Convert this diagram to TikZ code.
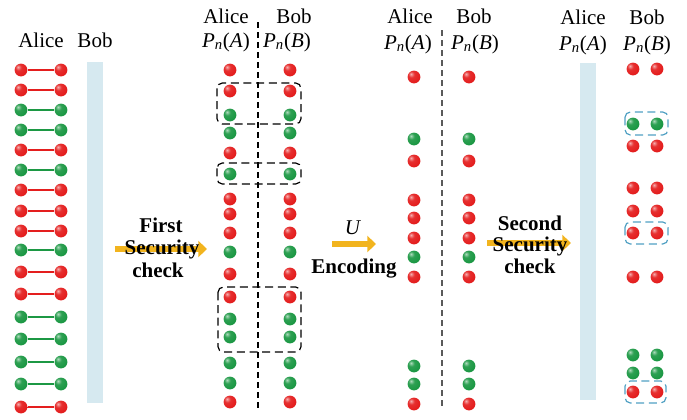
\documentclass[tikz,border=0pt]{standalone}
\usepackage{fontspec}
\setmainfont{Liberation Serif}
\usepackage{tikz}
\usetikzlibrary{arrows.meta}

\definecolor{ballred}{RGB}{228,30,30}
\definecolor{ballgreen}{RGB}{28,152,68}
\definecolor{barblue}{RGB}{214,233,240}
\definecolor{arrowyellow}{RGB}{242,180,30}
\definecolor{boxblue}{RGB}{80,160,195}
\definecolor{dashgray}{RGB}{90,90,90}

\pgfdeclareradialshading{redball}{\pgfpoint{-12bp}{12bp}}{color(0bp)=(ballred!35!white); color(12bp)=(ballred!92!white); color(30bp)=(ballred); color(50bp)=(ballred!88!black); color(67bp)=(ballred!55!black); color(100bp)=(ballred!55!black)}
\pgfdeclareradialshading{greenball}{\pgfpoint{-12bp}{12bp}}{color(0bp)=(ballgreen!35!white); color(12bp)=(ballgreen!92!white); color(30bp)=(ballgreen); color(50bp)=(ballgreen!88!black); color(67bp)=(ballgreen!55!black); color(100bp)=(ballgreen!55!black)}

\begin{document}
\begin{tikzpicture}[x=0.75pt,y=0.75pt,yscale=-1,xscale=1,
  redq/.style={circle,inner sep=0pt,minimum size=9.6pt,shading=redball},
  greenq/.style={circle,inner sep=0pt,minimum size=9.6pt,shading=greenball},
  lbl/.style={anchor=base,font=\fontsize{15.75}{18}\selectfont},
  boldlbl/.style={anchor=base,font=\fontsize{15.75}{18}\selectfont\bfseries},
  pairline/.style={line width=0.9pt},
  sepline/.style={dash pattern=on 4.5pt off 3pt,line width=0.9pt},
  blackbox/.style={dash pattern=on 6pt off 3.5pt,line width=0.9pt,rounded corners=4pt},
  bluebox/.style={draw=boxblue,dash pattern=on 6pt off 3.5pt,line width=0.9pt,rounded corners=4pt},
  yarrow/.style={arrowyellow,line width=5pt,-{Triangle[length=6.5pt,width=12pt]}}
]
\useasboundingbox (0,0) rectangle (687,419);

%Shape: Rectangle (Bob, entangled)
\fill[barblue] (87,62) rectangle (103,403);
%Shape: Rectangle (Alice, after check)
\fill[barblue] (580,63) rectangle (596,400);

% Text Node
\node[lbl] (al0) at (41,47) {Alice};
\node[lbl] (bo0) at (95,47) {Bob};

%Pairs
\node[redq] (A1) at (21,70) {}; \node[redq] (B1) at (61,70) {}; \draw[pairline,ballred] (A1) -- (B1);
\node[redq] (A2) at (21,90) {}; \node[redq] (B2) at (61,90) {}; \draw[pairline,ballred] (A2) -- (B2);
\node[greenq] (A3) at (21,110) {}; \node[greenq] (B3) at (61,110) {}; \draw[pairline,ballgreen] (A3) -- (B3);
\node[greenq] (A4) at (21,130) {}; \node[greenq] (B4) at (61,130) {}; \draw[pairline,ballgreen] (A4) -- (B4);
\node[redq] (A5) at (21,150) {}; \node[redq] (B5) at (61,150) {}; \draw[pairline,ballred] (A5) -- (B5);
\node[greenq] (A6) at (21,170) {}; \node[greenq] (B6) at (61,170) {}; \draw[pairline,ballgreen] (A6) -- (B6);
\node[redq] (A7) at (21,190) {}; \node[redq] (B7) at (61,190) {}; \draw[pairline,ballred] (A7) -- (B7);
\node[redq] (A8) at (21,211) {}; \node[redq] (B8) at (61,211) {}; \draw[pairline,ballred] (A8) -- (B8);
\node[redq] (A9) at (21,231) {}; \node[redq] (B9) at (61,231) {}; \draw[pairline,ballred] (A9) -- (B9);
\node[greenq] (A10) at (21,250) {}; \node[greenq] (B10) at (61,250) {}; \draw[pairline,ballgreen] (A10) -- (B10);
\node[redq] (A11) at (21,272) {}; \node[redq] (B11) at (61,272) {}; \draw[pairline,ballred] (A11) -- (B11);
\node[redq] (A12) at (21,294) {}; \node[redq] (B12) at (61,294) {}; \draw[pairline,ballred] (A12) -- (B12);
\node[greenq] (A13) at (21,317) {}; \node[greenq] (B13) at (61,317) {}; \draw[pairline,ballgreen] (A13) -- (B13);
\node[greenq] (A14) at (21,339) {}; \node[greenq] (B14) at (61,339) {}; \draw[pairline,ballgreen] (A14) -- (B14);
\node[greenq] (A15) at (21,362) {}; \node[greenq] (B15) at (61,362) {}; \draw[pairline,ballgreen] (A15) -- (B15);
\node[greenq] (A16) at (21,384) {}; \node[greenq] (B16) at (61,384) {}; \draw[pairline,ballgreen] (A16) -- (B16);
\node[redq] (A17) at (21,407) {}; \node[redq] (B17) at (61,407) {}; \draw[pairline,ballred] (A17) -- (B17);

%Straight Lines [first check]
\coordinate (fs) at (115,249);
\coordinate (fe) at (207,249);
\draw[yarrow] (fs) -- (fe);
% Text Node
\node[boldlbl] (first) at (161,232) {First};
\node[boldlbl] (sec1) at (162,254) {Security};
\node[boldlbl] (chk1) at (158,277) {check};

%Straight Lines [separator]
\coordinate (d1s) at (258,22);
\coordinate (d1e) at (258,410);
\draw[sepline] (d1s) -- (d1e);

% Text Node
\node[lbl] (al1) at (226,23) {Alice};
\node[lbl] (bo1) at (294,23) {Bob};
\node[lbl] (pa1) at (226,47) {\textit{P}\textsubscript{\textit{n}}(\textit{A})};
\node[lbl] (pb1) at (287,47) {\textit{P}\textsubscript{\textit{n}}(\textit{B})};

%Measured pairs
\node[redq] (pA1) at (230,70) {}; \node[redq] (pB1) at (290,70) {};
\node[redq] (pA2) at (230,91) {}; \node[redq] (pB2) at (290,91) {};
\node[greenq] (pA3) at (230,115) {}; \node[greenq] (pB3) at (290,115) {};
\node[greenq] (pA4) at (230,133) {}; \node[greenq] (pB4) at (290,133) {};
\node[redq] (pA5) at (230,153) {}; \node[redq] (pB5) at (290,153) {};
\node[greenq] (pA6) at (230,174) {}; \node[greenq] (pB6) at (290,174) {};
\node[redq] (pA7) at (230,199) {}; \node[redq] (pB7) at (290,199) {};
\node[redq] (pA8) at (230,214) {}; \node[redq] (pB8) at (290,214) {};
\node[redq] (pA9) at (230,233) {}; \node[redq] (pB9) at (290,233) {};
\node[greenq] (pA10) at (230,252) {}; \node[greenq] (pB10) at (290,252) {};
\node[redq] (pA11) at (230,274) {}; \node[redq] (pB11) at (290,274) {};
\node[redq] (pA12) at (230,297) {}; \node[redq] (pB12) at (290,297) {};
\node[greenq] (pA13) at (230,319) {}; \node[greenq] (pB13) at (290,319) {};
\node[greenq] (pA14) at (230,337) {}; \node[greenq] (pB14) at (290,337) {};
\node[greenq] (pA15) at (230,363) {}; \node[greenq] (pB15) at (290,363) {};
\node[greenq] (pA16) at (230,383) {}; \node[greenq] (pB16) at (290,383) {};
\node[redq] (pA17) at (230,402) {}; \node[redq] (pB17) at (290,402) {};

%Shape: Rectangle [checked groups]
\draw[blackbox] (217,83) rectangle (301,124);
\draw[blackbox] (217,163) rectangle (301,184);
\draw[blackbox] (218,287) rectangle (301,352);

%Straight Lines [encoding]
\coordinate (us) at (332,244);
\coordinate (ue) at (376,244);
\draw[yarrow] (us) -- (ue);
% Text Node
\node[lbl] (uop) at (353,234) {\textit{U}};
\node[boldlbl] (enc) at (354,273) {Encoding};

%Straight Lines [separator]
\coordinate (d2s) at (442,30);
\coordinate (d2e) at (442,410);
\draw[sepline,dashgray] (d2s) -- (d2e);

% Text Node
\node[lbl] (al2) at (410,23) {Alice};
\node[lbl] (bo2) at (474,23) {Bob};
\node[lbl] (pa2) at (408,49) {\textit{P}\textsubscript{\textit{n}}(\textit{A})};
\node[lbl] (pb2) at (475,49) {\textit{P}\textsubscript{\textit{n}}(\textit{B})};

%Encoded pairs
\node[redq] (eA1) at (414,77) {}; \node[redq] (eB1) at (469,77) {};
\node[greenq] (eA2) at (414,139) {}; \node[greenq] (eB2) at (469,139) {};
\node[redq] (eA3) at (414,161) {}; \node[redq] (eB3) at (469,161) {};
\node[redq] (eA4) at (414,200) {}; \node[redq] (eB4) at (469,200) {};
\node[redq] (eA5) at (414,218) {}; \node[redq] (eB5) at (469,218) {};
\node[redq] (eA6) at (414,238) {}; \node[redq] (eB6) at (469,238) {};
\node[greenq] (eA7) at (414,257) {}; \node[greenq] (eB7) at (469,257) {};
\node[redq] (eA8) at (414,277) {}; \node[redq] (eB8) at (469,277) {};
\node[greenq] (eA9) at (414,366) {}; \node[greenq] (eB9) at (469,366) {};
\node[greenq] (eA10) at (414,384) {}; \node[greenq] (eB10) at (469,384) {};
\node[redq] (eA11) at (414,404) {}; \node[redq] (eB11) at (469,404) {};

%Straight Lines [second check]
\coordinate (ss) at (487,243);
\coordinate (se) at (571,243);
\draw[yarrow] (ss) -- (se);
% Text Node
\node[boldlbl] (second) at (530,230) {Second};
\node[boldlbl] (sec2) at (530,251) {Security};
\node[boldlbl] (chk2) at (530,273) {check};

% Text Node
\node[lbl] (al3) at (583,24) {Alice};
\node[lbl] (bo3) at (647,24) {Bob};
\node[lbl] (pa3) at (583,50) {\textit{P}\textsubscript{\textit{n}}(\textit{A})};
\node[lbl] (pb3) at (647,50) {\textit{P}\textsubscript{\textit{n}}(\textit{B})};

%Bob's particles
\node[redq] (sL1) at (633,69) {}; \node[redq] (sR1) at (657,69) {};
\node[greenq] (sL2) at (633,124) {}; \node[greenq] (sR2) at (657,124) {};
\node[redq] (sL3) at (633,146) {}; \node[redq] (sR3) at (657,146) {};
\node[redq] (sL4) at (633,188) {}; \node[redq] (sR4) at (657,188) {};
\node[redq] (sL5) at (633,211) {}; \node[redq] (sR5) at (657,211) {};
\node[redq] (sL6) at (633,233) {}; \node[redq] (sR6) at (657,233) {};
\node[redq] (sL7) at (633,277) {}; \node[redq] (sR7) at (657,277) {};
\node[greenq] (sL8) at (633,355) {}; \node[greenq] (sR8) at (657,355) {};
\node[greenq] (sL9) at (633,373) {}; \node[greenq] (sR9) at (657,373) {};
\node[redq] (sL10) at (633,392) {}; \node[redq] (sR10) at (657,392) {};

%Shape: Rectangle [checked groups]
\draw[bluebox] (625,112) rectangle (668,135);
\draw[bluebox] (625,222) rectangle (668,244);
\draw[bluebox] (625,381) rectangle (666,403);
\end{tikzpicture}
\end{document}
